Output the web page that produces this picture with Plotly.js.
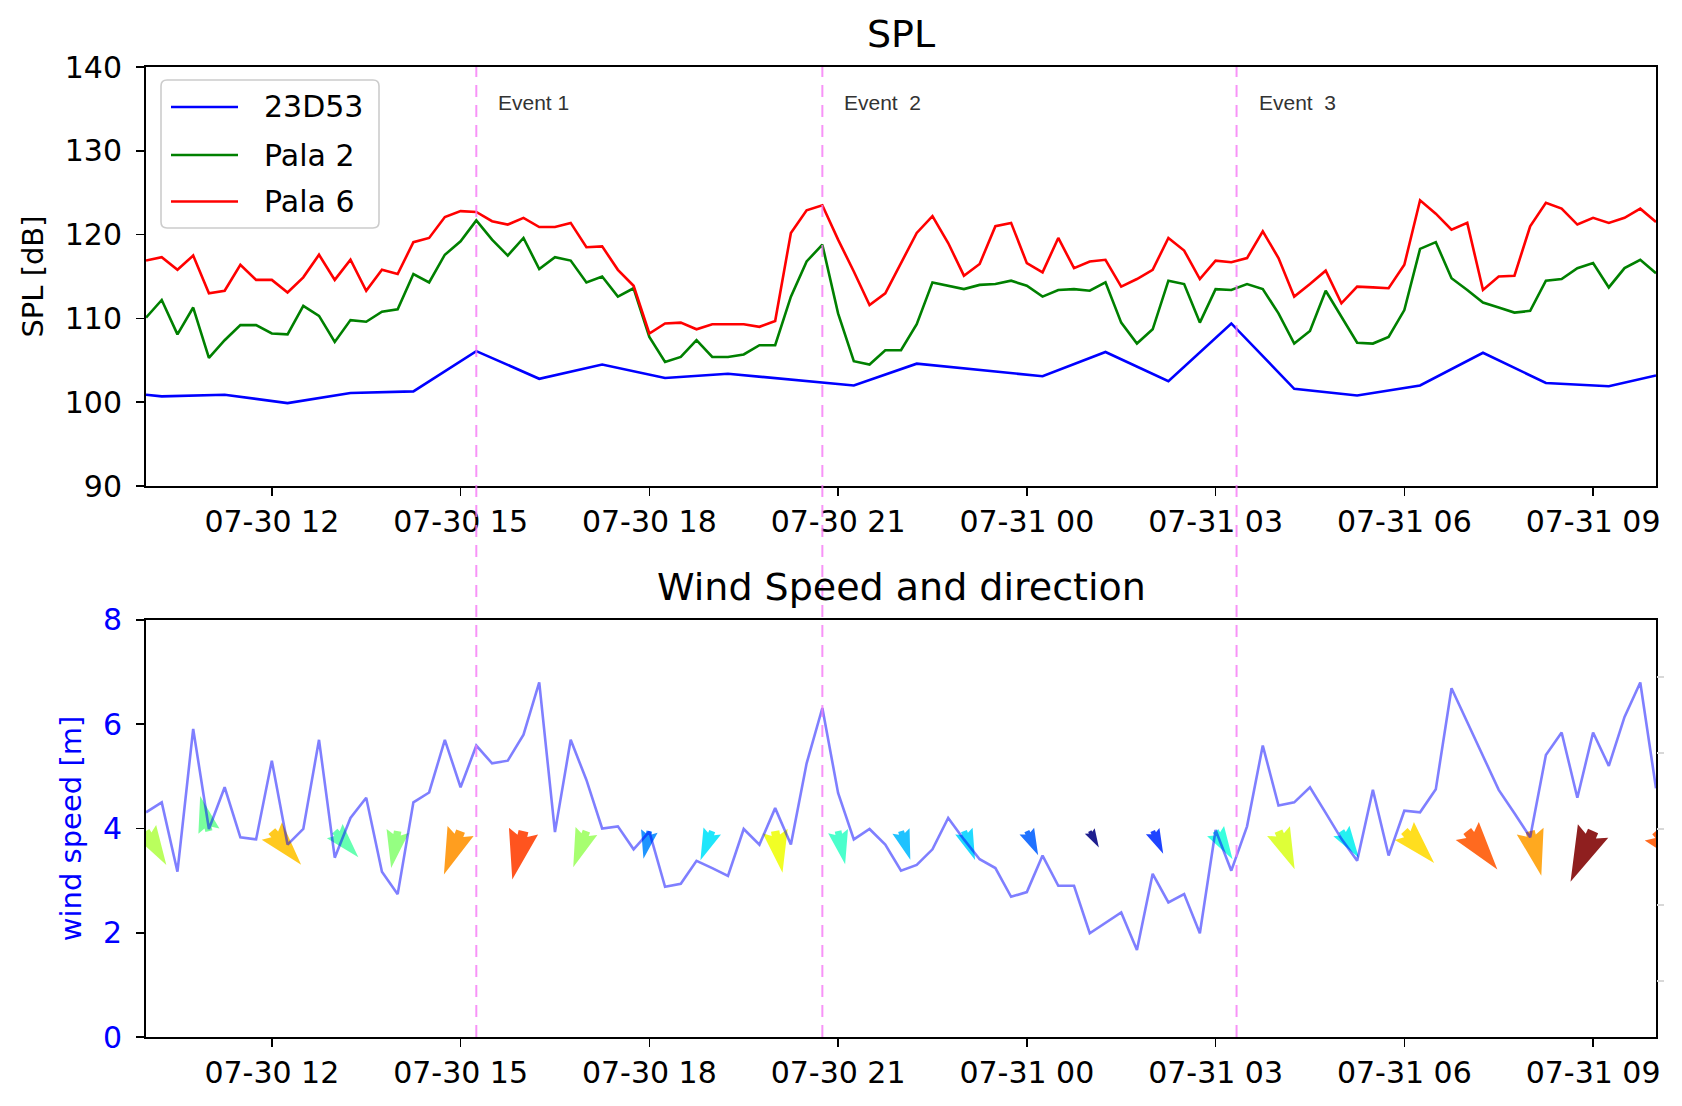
<!DOCTYPE html>
<html>
<head>
<meta charset="utf-8">
<script src="https://cdn.plot.ly/plotly-3.0.1.min.js"></script>
<style>html,body{margin:0;padding:0;background:#fff;}</style>
</head>
<body>
<div id="chart" style="width:1682px;height:1106px;"></div>
<script>
// ---------------- DATA ----------------
const START = '2021-07-30 10:00';
const END = '2021-07-31 10:00';

// 15-minute sampled series (07-30 10:00 ... 07-31 10:00)
const pala6 = [
  116.9,117.3,115.8,117.5,113.0,113.3,116.4,114.6,114.6,113.1,114.9,117.6,114.6,117.0,113.3,115.8,115.3,119.1,119.6,122.1,122.8,122.7,121.6,121.2,122.0,
  120.9,120.9,121.4,118.5,118.6,115.8,113.9,108.2,109.4,109.5,108.7,109.3,109.3,109.3,109.0,109.7,120.2,122.9,123.5,119.4,115.6,111.6,113.0,116.6,
  120.2,122.2,119.0,115.1,116.5,121.0,121.4,116.6,115.5,119.6,116.0,116.8,117.0,113.8,114.7,115.8,119.6,118.1,114.7,116.9,116.7,117.2,120.4,117.2,
  112.6,114.1,115.7,111.8,113.8,113.7,113.6,116.4,124.1,122.5,120.6,121.4,113.4,115.0,115.1,121.0,123.8,123.1,121.2,122.0,121.4,122.0,123.1,121.5
];
const pala2 = [
  110.1,112.2,108.1,111.3,105.3,107.4,109.2,109.2,108.2,108.1,111.5,110.3,107.2,109.8,109.6,110.8,111.1,115.3,114.3,117.6,119.2,121.7,119.4,117.5,119.6,
  115.9,117.3,116.9,114.3,115.0,112.6,113.6,107.8,104.8,105.4,107.4,105.4,105.4,105.7,106.8,106.8,112.6,116.8,118.8,110.6,104.9,104.5,106.2,106.2,
  109.3,114.3,113.9,113.5,114.0,114.1,114.5,113.9,112.6,113.4,113.5,113.3,114.3,109.5,107.0,108.7,114.5,114.1,109.5,113.5,113.4,114.1,113.5,110.6,
  107.0,108.5,113.3,110.2,107.1,107.0,107.8,111.0,118.3,119.1,114.8,113.4,111.9,111.3,110.7,110.9,114.5,114.7,116.0,116.6,113.7,116.0,117.0,115.4
];
const windSpeed = [
  4.31,4.50,3.17,5.91,3.99,4.79,3.83,3.79,5.30,3.69,3.99,5.70,3.44,4.20,4.59,3.17,2.74,4.50,4.69,5.70,4.79,5.59,5.25,5.30,5.80,
  6.80,3.93,5.70,4.93,4.00,4.04,3.60,3.94,2.88,2.94,3.38,3.24,3.09,3.99,3.69,4.39,3.69,5.25,6.31,4.68,3.79,3.99,3.69,3.19,
  3.30,3.60,4.20,3.79,3.41,3.24,2.69,2.78,3.48,2.90,2.90,1.99,2.19,2.39,1.67,3.13,2.58,2.74,1.99,3.97,3.19,4.04,5.59,4.44,
  4.50,4.79,4.30,3.80,3.38,4.74,3.48,4.34,4.31,4.75,6.69,6.05,5.39,4.74,4.29,3.83,5.41,5.84,4.59,5.84,5.20,6.14,6.80,4.77
];

// 23D53 (irregular sampling)
const times23D53 = [
  '2021-07-30 10:00','2021-07-30 10:15','2021-07-30 11:15','2021-07-30 12:15','2021-07-30 13:15','2021-07-30 14:15',
  '2021-07-30 15:15','2021-07-30 16:15','2021-07-30 17:15','2021-07-30 18:15','2021-07-30 19:15','2021-07-30 21:15',
  '2021-07-30 22:15','2021-07-31 00:15','2021-07-31 01:15','2021-07-31 02:15','2021-07-31 03:15','2021-07-31 04:15',
  '2021-07-31 05:15','2021-07-31 06:15','2021-07-31 07:15','2021-07-31 08:15','2021-07-31 09:15','2021-07-31 10:00'
];
const spl23D53 = [100.9,100.7,100.9,99.9,101.1,101.3,106.1,102.8,104.5,102.9,103.4,102.0,
                  104.6,103.1,106.0,102.5,109.4,101.6,100.8,102.0,105.9,102.3,101.9,103.2];

// hourly wind vectors (quiver): magnitude [m/s] and direction the arrow points (deg, clockwise from up)
const arrowMag = [4.2,3.85,4.75,3.75,4.0,4.95,5.3,4.1,3.0,3.35,4.5,3.6,3.2,3.3,2.85,2.0,2.65,3.5,4.4,3.4,4.65,5.2,4.9,5.9,5.2];
const arrowDir = [149,346,139,138,190,201,193,200,192,202,170,168,162,159,155,151,155,149,157,147,137,142,166,204,140];
const arrowLevel = 3.95;

const eventTimes = ['2021-07-30 15:15','2021-07-30 20:45','2021-07-31 03:20'];
const eventLabels = ['Event 1','Event\u00a0\u00a02','Event\u00a0\u00a03'];

const seriesNames = ['23D53','Pala 2','Pala 6'];
const seriesColors = ['#0000ff','#008000','#ff0000'];

// ---------------- HELPERS ----------------
const pad = (n, w=2) => String(n).padStart(w, '0');
function fmt(ms){
  const d = new Date(ms);
  return d.getUTCFullYear()+'-'+pad(d.getUTCMonth()+1)+'-'+pad(d.getUTCDate())+' '+
         pad(d.getUTCHours())+':'+pad(d.getUTCMinutes())+':'+pad(d.getUTCSeconds())+'.'+pad(d.getUTCMilliseconds(),3);
}
const baseMs = Date.UTC(2021, 6, 30, 10, 0, 0);
const times15 = pala6.map((_, k) => fmt(baseMs + k*15*60000));
const arrowTimesMs = arrowMag.map((_, i) => baseMs + i*3600000);

const JET = {
  r: [[0,0],[0.35,0],[0.66,1],[0.89,1],[1,0.5]],
  g: [[0,0],[0.125,0],[0.375,1],[0.64,1],[0.91,0],[1,0]],
  b: [[0,0.5],[0.11,1],[0.34,1],[0.65,0],[1,0]]
};
function seg(pts, x){
  for (let i=1;i<pts.length;i++){
    if (x <= pts[i][0]){
      const [x0,y0] = pts[i-1], [x1,y1] = pts[i];
      return y0 + (y1-y0)*(x-x0)/(x1-x0);
    }
  }
  return pts[pts.length-1][1];
}
function jet(v, alpha){
  const c = ['r','g','b'].map(k => Math.round(255*seg(JET[k], Math.max(0,Math.min(1,v)))));
  return 'rgba('+c[0]+','+c[1]+','+c[2]+','+alpha+')';
}

// ---------------- LAYOUT GEOMETRY ----------------
const W = 1682, H = 1106;
const M = {l:146, r:26, t:67, b:69};
const plotW = W - M.l - M.r, plotH = H - M.t - M.b;
const topDomain = [0.568, 1], botDomain = [0, 0.430];
const windRange = [0, 8];
const msPerPx = (Date.UTC(2021,6,31,10) - baseMs) / plotW;
const unitsPerPx = (windRange[1]-windRange[0]) / ((botDomain[1]-botDomain[0]) * plotH);
const ARROW_PX_PER_UNIT = 9.4;
// pixel -> paper helpers (relative to plot area)
const px2x = px => (px - M.l) / plotW;
const py2y = py => (H - M.b - py) / plotH;

function arrowTrace(i){
  const L = ARROW_PX_PER_UNIT * arrowMag[i];
  const th = arrowDir[i] * Math.PI / 180;
  const p = [Math.sin(th), -Math.cos(th)], n = [Math.cos(th), Math.sin(th)];
  const shape = [[0,0.1],[0.1,0.1],[0,0.3],[1,0],[0,-0.3],[0.1,-0.1],[0,-0.1],[0,0.1]];
  const xs = [], ys = [];
  shape.forEach(([u,w]) => {
    const sx = (u*p[0] + w*n[0]) * L, sy = (u*p[1] + w*n[1]) * L;
    xs.push(fmt(arrowTimesMs[i] + sx*msPerPx));
    ys.push(arrowLevel - sy*unitsPerPx);
  });
  const mn = Math.min(...arrowMag), mx = Math.max(...arrowMag);
  return {
    type:'scatter', mode:'lines', x: xs, y: ys, xaxis:'x2', yaxis:'y2',
    fill:'toself', fillcolor: jet((arrowMag[i]-mn)/(mx-mn), 0.88),
    line:{width:0, color:'rgba(0,0,0,0)'}, showlegend:false, hoverinfo:'skip'
  };
}

// ---------------- TRACES ----------------
const traces = [
  {type:'scatter', mode:'lines', name:seriesNames[0], x:times23D53, y:spl23D53,
   line:{color:seriesColors[0], width:2.6}, showlegend:false},
  {type:'scatter', mode:'lines', name:seriesNames[1], x:times15, y:pala2,
   line:{color:seriesColors[1], width:2.6}, showlegend:false},
  {type:'scatter', mode:'lines', name:seriesNames[2], x:times15, y:pala6,
   line:{color:seriesColors[2], width:2.6}, showlegend:false}
];
arrowMag.forEach((_, i) => traces.push(arrowTrace(i)));
traces.push({type:'scatter', mode:'lines', x:times15, y:windSpeed, xaxis:'x2', yaxis:'y2',
  line:{color:'rgba(0,0,255,0.5)', width:2.6}, showlegend:false, hoverinfo:'skip'});

// ---------------- AXES ----------------
const FONT = 'DejaVu Sans, sans-serif';
const xCommon = {
  type:'date', range:[START, END], tickformat:'%m-%d %H', dtick:3*3600000, tick0:'2021-07-30 00:00',
  ticks:'outside', ticklen:8, tickwidth:1.6, tickcolor:'#000', showline:true, linecolor:'#000',
  linewidth:2, mirror:true, showgrid:false, zeroline:false, ticklabelstandoff:0,
  tickfont:{family:FONT, size:30, color:'#000'}
};
const yCommon = {
  ticks:'outside', ticklen:8, tickwidth:1.6, tickcolor:'#000', showline:true, linecolor:'#000',
  linewidth:2, mirror:true, showgrid:false, zeroline:false, ticklabelstandoff:8
};

const shapes = eventTimes.map(t => ({
  type:'line', xref:'x', yref:'paper', x0:t, x1:t, y0:0, y1:1,
  line:{color:'rgba(245,120,245,0.8)', width:2, dash:'12px,8px'}
}));

const annotations = eventTimes.map((t, i) => ({
  xref:'x', yref:'y', x:t, y:135.8, text:eventLabels[i], showarrow:false,
  xanchor:'left', yanchor:'middle', xshift:20,
  font:{family:'Liberation Sans, Arial, sans-serif', size:21, color:'#333'}
}));
annotations.push({xref:'paper', yref:'paper', x:0.5, y:topDomain[1], yshift:33, text:'SPL', showarrow:false,
  xanchor:'center', yanchor:'middle', font:{family:FONT, size:38, color:'#000'}});
annotations.push({xref:'paper', yref:'paper', x:0.5, y:botDomain[1], yshift:33, text:'Wind Speed and direction',
  showarrow:false, xanchor:'center', yanchor:'middle', font:{family:FONT, size:38, color:'#000'}});

// ---- legend drawn as a framed box (matplotlib style) ----
const LEG = {x0:161, x1:379, y0:80, y1:228, r:6, lineX0:171, lineX1:238, textX:262, rowY:[107,155,201.5]};
(function(){
  const r = LEG.r, X = px2x, Y = py2y;
  const d = 'M'+X(LEG.x0+r)+','+Y(LEG.y0)+' L'+X(LEG.x1-r)+','+Y(LEG.y0)+
            ' Q'+X(LEG.x1)+','+Y(LEG.y0)+' '+X(LEG.x1)+','+Y(LEG.y0+r)+
            ' L'+X(LEG.x1)+','+Y(LEG.y1-r)+' Q'+X(LEG.x1)+','+Y(LEG.y1)+' '+X(LEG.x1-r)+','+Y(LEG.y1)+
            ' L'+X(LEG.x0+r)+','+Y(LEG.y1)+' Q'+X(LEG.x0)+','+Y(LEG.y1)+' '+X(LEG.x0)+','+Y(LEG.y1-r)+
            ' L'+X(LEG.x0)+','+Y(LEG.y0+r)+' Q'+X(LEG.x0)+','+Y(LEG.y0)+' '+X(LEG.x0+r)+','+Y(LEG.y0)+' Z';
  shapes.push({type:'path', xref:'paper', yref:'paper', path:d, layer:'above',
    fillcolor:'rgba(255,255,255,0.85)', line:{color:'#cccccc', width:1.6}});
  seriesNames.forEach((name, i) => {
    shapes.push({type:'line', xref:'paper', yref:'paper', layer:'above',
      x0:X(LEG.lineX0), x1:X(LEG.lineX1), y0:Y(LEG.rowY[i]), y1:Y(LEG.rowY[i]),
      line:{color:seriesColors[i], width:2.6}});
    annotations.push({xref:'paper', yref:'paper', x:X(LEG.textX), y:Y(LEG.rowY[i]), text:name,
      showarrow:false, xanchor:'left', yanchor:'middle', font:{family:FONT, size:30, color:'#000'}});
  });
})();

const layout = {
  width:W, height:H, margin:M, paper_bgcolor:'#fff', plot_bgcolor:'#fff',
  font:{family:FONT, color:'#000'},
  showlegend:false,
  xaxis: Object.assign({}, xCommon, {domain:[0,1], anchor:'y'}),
  xaxis2: Object.assign({}, xCommon, {domain:[0,1], anchor:'y2', matches:'x'}),
  yaxis: Object.assign({}, yCommon, {domain:topDomain, anchor:'x', range:[90,140], dtick:10, tick0:90,
    tickfont:{family:FONT, size:30, color:'#000'},
    title:{text:'SPL [dB]', font:{family:FONT, size:29, color:'#000'}, standoff:13}}),
  yaxis2: Object.assign({}, yCommon, {domain:botDomain, anchor:'x2', range:windRange, dtick:2, tick0:0,
    tickfont:{family:FONT, size:30, color:'#0000ff'},
    title:{text:'wind speed [m]', font:{family:FONT, size:29, color:'#0000ff'}, standoff:13}}),
  yaxis3: {overlaying:'y2', anchor:'x2', side:'right', range:[-0.737, 4.75], dtick:1, tick0:0,
    ticks:'outside', ticklen:7, tickwidth:1.2, tickcolor:'#d8d8d8', showticklabels:false,
    showline:false, showgrid:false, zeroline:false},
  shapes: shapes,
  annotations: annotations
};
// invisible trace so yaxis3 is drawn
traces.push({type:'scatter', mode:'lines', x:[START], y:[0], yaxis:'y3', xaxis:'x2',
  showlegend:false, hoverinfo:'skip', line:{width:0}});

Plotly.newPlot('chart', traces, layout, {staticPlot:true, displayModeBar:false});
</script>
</body>
</html>
